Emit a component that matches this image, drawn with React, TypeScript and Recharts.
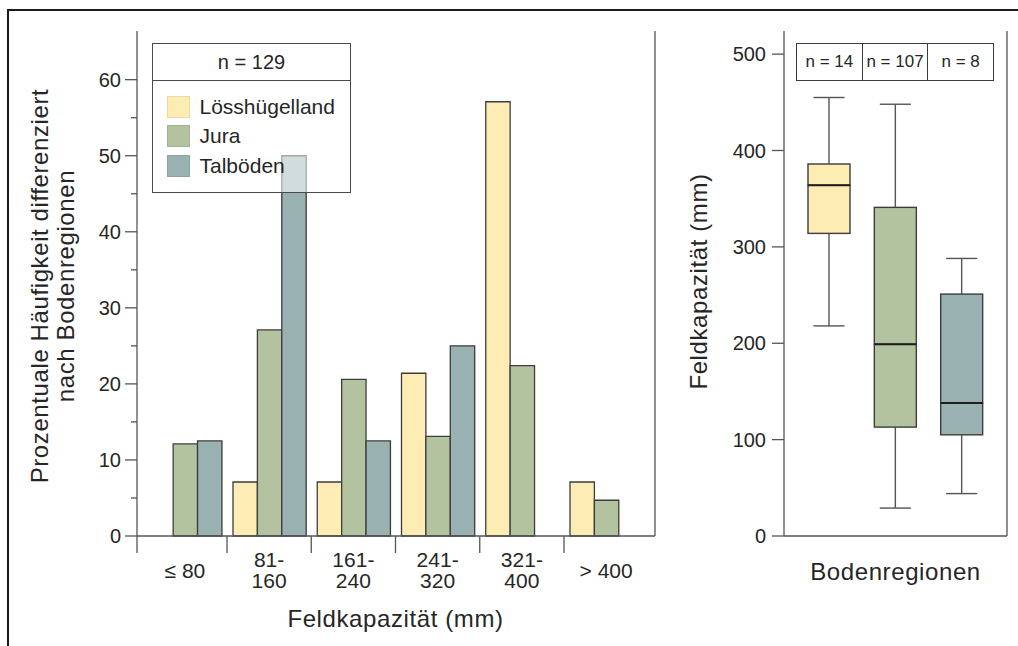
import React from 'react';
import { BarChart, Bar, XAxis, YAxis, Legend } from 'recharts';

// ---------- Data: histogram (percent per soil region) ----------
const categories = ['≤ 80', '81-160', '161-240', '241-320', '321-400', '> 400'];
const tickLines = [['≤ 80'], ['81-', '160'], ['161-', '240'], ['241-', '320'], ['321-', '400'], ['> 400']];
const loess = [0, 7.1, 7.1, 21.4, 57.1, 7.1];
const jura = [12.1, 27.1, 20.6, 13.1, 22.4, 4.7];
const talboeden = [12.5, 50.0, 12.5, 25.0, 0, 0];
const histTicks = [0, 5, 10, 15, 20, 25, 30, 35, 40, 45, 50, 55, 60];
const totalN = 129;

// ---------- Data: box plots ----------
const regions = ['Lösshügelland', 'Jura', 'Talböden'];
const nValues = [14, 107, 8];
const whiskerMin = [218, 29, 44];
const q1 = [314, 113, 105];
const median = [364, 199, 138];
const q3 = [386, 341, 251];
const whiskerMax = [455, 448, 288];
const boxTicks = [0, 100, 200, 300, 400, 500];

// ---------- Style ----------
const FONT = '"Liberation Sans", Arial, Helvetica, sans-serif';
const TXT = '#262626';
const AX = '#555555';
const EDGE = '#3c3c3c';
const COLORS = ['#FDEDB5', '#B3C39F', '#9AB1B2'];
const SWATCH_BORDER = ['#eadb9c', '#a2b38d', '#8aa2a3'];
const TITLE_SIZE = 24;
const TITLE_LS = 0.6;

const histData = categories.map((c, i) => ({ cat: c, loess: loess[i], jura: jura[i], talboeden: talboeden[i] }));
const boxData = regions.map((r, i) => ({
  region: r,
  base: whiskerMin[i],
  lowW: q1[i] - whiskerMin[i],
  lowBox: median[i] - q1[i],
  highBox: q3[i] - median[i],
  highW: whiskerMax[i] - q3[i],
}));

const PAD_L = 5.75;
const PAD_R = 6.75;
const PLOT_W = 518;
const BAND = (PLOT_W - PAD_L - PAD_R) / categories.length;

const CatTick = (props: any) => {
  const { x, y, index } = props;
  const lines = tickLines[index] || [];
  const left = index === 0 ? x - BAND / 2 - PAD_L : x - BAND / 2;
  return (
    <g>
      <line x1={left} x2={left} y1={y} y2={y + 17} stroke={AX} strokeWidth={1.3} />
      {lines.length === 1 ? (
        <text x={x} y={y + 42} textAnchor="middle" fontSize={21} fill={TXT} fontFamily={FONT}>{lines[0]}</text>
      ) : (
        <text x={x} y={y + 31} textAnchor="middle" fontSize={21} fill={TXT} fontFamily={FONT}>
          <tspan x={x} y={y + 31}>{lines[0]}</tspan>
          <tspan x={x} y={y + 52}>{lines[1]}</tspan>
        </text>
      )}
    </g>
  );
};

const HistYTick = (props: any) => {
  const { x, y, payload } = props;
  const major = payload.value % 10 === 0;
  return (
    <g>
      <line x1={x - (major ? 12 : 6)} x2={x} y1={y} y2={y} stroke={AX} strokeWidth={1.3} />
      {major && (
        <text x={x - 16} y={y + 7} textAnchor="end" fontSize={20} fill={TXT} fontFamily={FONT}>{payload.value}</text>
      )}
    </g>
  );
};

const BoxYTick = (props: any) => {
  const { x, y, payload } = props;
  return (
    <g>
      <line x1={x - 12} x2={x} y1={y} y2={y} stroke={AX} strokeWidth={1.3} />
      <text x={x - 18} y={y + 7} textAnchor="end" fontSize={20} fill={TXT} fontFamily={FONT}>{payload.value}</text>
    </g>
  );
};

const histYLabel = (props: any) => {
  const vb = props.viewBox || {};
  const cy = vb.y + vb.height / 2 + 2.5;
  const x1 = vb.x + 38;
  const x2 = vb.x + 64;
  return (
    <g>
      <text x={x1} y={cy} transform={`rotate(-90, ${x1}, ${cy})`} textAnchor="middle" fontSize={TITLE_SIZE} letterSpacing={TITLE_LS} fill={TXT} fontFamily={FONT}>
        Prozentuale Häufigkeit differenziert
      </text>
      <text x={x2} y={cy} transform={`rotate(-90, ${x2}, ${cy})`} textAnchor="middle" fontSize={TITLE_SIZE} letterSpacing={TITLE_LS} fill={TXT} fontFamily={FONT}>
        nach Bodenregionen
      </text>
    </g>
  );
};

const histXLabel = (props: any) => {
  const vb = props.viewBox || {};
  const cx = vb.x + PAD_L + (BAND * categories.length) / 2;
  return (
    <text x={cx} y={vb.y + 91} textAnchor="middle" fontSize={TITLE_SIZE} letterSpacing={TITLE_LS} fill={TXT} fontFamily={FONT}>
      Feldkapazität (mm)
    </text>
  );
};

const boxYLabel = (props: any) => {
  const vb = props.viewBox || {};
  const cy = vb.y + vb.height / 2 - 2;
  const x = vb.x + 23;
  return (
    <text x={x} y={cy} transform={`rotate(-90, ${x}, ${cy})`} textAnchor="middle" fontSize={TITLE_SIZE} letterSpacing={TITLE_LS} fill={TXT} fontFamily={FONT}>
      Feldkapazität (mm)
    </text>
  );
};

const boxXLabel = (props: any) => {
  const vb = props.viewBox || {};
  return (
    <text x={vb.x + vb.width / 2} y={vb.y + 44} textAnchor="middle" fontSize={TITLE_SIZE} letterSpacing={TITLE_LS} fill={TXT} fontFamily={FONT}>
      Bodenregionen
    </text>
  );
};

const LowerWhisker = (p: any) => {
  const { x, y, width, height } = p;
  const cx = x + width / 2;
  const cap = width * 0.37;
  return (
    <g>
      <line x1={cx} x2={cx} y1={y} y2={y + height} stroke={AX} strokeWidth={1.4} />
      <line x1={cx - cap} x2={cx + cap} y1={y + height} y2={y + height} stroke={AX} strokeWidth={1.4} />
    </g>
  );
};

const UpperWhisker = (p: any) => {
  const { x, y, width, height } = p;
  const cx = x + width / 2;
  const cap = width * 0.37;
  return (
    <g>
      <line x1={cx} x2={cx} y1={y} y2={y + height} stroke={AX} strokeWidth={1.4} />
      <line x1={cx - cap} x2={cx + cap} y1={y} y2={y} stroke={AX} strokeWidth={1.4} />
    </g>
  );
};

const LowBox = (p: any) => {
  const { x, y, width, height, index } = p;
  return <rect x={x} y={y} width={width} height={height} fill={COLORS[index]} stroke={EDGE} strokeWidth={1.4} />;
};

const HighBox = (p: any) => {
  const { x, y, width, height, index } = p;
  return (
    <g>
      <rect x={x} y={y} width={width} height={height} fill={COLORS[index]} stroke={EDGE} strokeWidth={1.4} />
      <line x1={x} x2={x + width} y1={y + height} y2={y + height} stroke="#1e1e1e" strokeWidth={2} />
    </g>
  );
};

const HistLegend = () => (
  <div
    style={{
      width: 199,
      height: 150,
      boxSizing: 'border-box',
      border: '1.5px solid #4a4a4a',
      background: 'rgba(255,255,255,0.55)',
      fontFamily: FONT,
      color: TXT,
    }}
  >
    <div
      style={{
        height: 36,
        borderBottom: '1.5px solid #4a4a4a',
        display: 'flex',
        alignItems: 'center',
        justifyContent: 'center',
        fontSize: 20,
      }}
    >
      n = {totalN}
    </div>
    <div style={{ paddingTop: 11, paddingLeft: 13.5 }}>
      {regions.map((r, i) => (
        <div key={r} style={{ height: 29.5, display: 'flex', alignItems: 'center' }}>
          <div
            style={{
              width: 23,
              height: 22,
              boxSizing: 'border-box',
              background: COLORS[i],
              border: `1px solid ${SWATCH_BORDER[i]}`,
              marginRight: 10,
            }}
          />
          <span style={{ fontSize: 21 }}>{r}</span>
        </div>
      ))}
    </div>
  </div>
);

const NTable = () => (
  <div
    style={{
      display: 'flex',
      width: 198,
      height: 38,
      boxSizing: 'border-box',
      border: '1.3px solid #3c3c3c',
      background: '#fff',
      fontFamily: FONT,
      color: TXT,
    }}
  >
    {nValues.map((n, i) => (
      <div
        key={i}
        style={{
          flex: 1,
          display: 'flex',
          alignItems: 'center',
          justifyContent: 'center',
          fontSize: 17,
          borderLeft: i > 0 ? '1.3px solid #3c3c3c' : 'none',
        }}
      >
        n = {n}
      </div>
    ))}
  </div>
);

export default function App() {
  return (
    <div style={{ position: 'absolute', left: 0, top: 0, width: 1018, height: 646, background: '#fff', overflow: 'hidden' }}>
      <div
        style={{
          position: 'absolute',
          left: 7,
          top: 9,
          width: 1030,
          height: 660,
          borderTop: '2px solid #1a1a1a',
          borderLeft: '2px solid #1a1a1a',
        }}
      />
      <div style={{ position: 'absolute', left: 0, top: 0 }}>
        <BarChart
          width={680}
          height={646}
          data={histData}
          margin={{ top: 31, right: 24, bottom: 50, left: 10 }}
          barGap={0}
          barSize={24.4}
        >
          <XAxis
            dataKey="cat"
            padding={{ left: PAD_L, right: PAD_R }}
            tick={<CatTick />}
            tickLine={false}
            tickSize={0}
            tickMargin={0}
            interval={0}
            height={60}
            axisLine={{ stroke: AX, strokeWidth: 1.3 }}
            label={histXLabel}
          />
          <XAxis xAxisId="top" orientation="top" dataKey="cat" height={0} tick={false} tickLine={false} axisLine={{ stroke: AX, strokeWidth: 1.3 }} />
          <YAxis
            domain={[0, 66.4]}
            ticks={histTicks}
            interval={0}
            width={127}
            tick={<HistYTick />}
            tickLine={false}
            tickSize={0}
            tickMargin={0}
            axisLine={{ stroke: AX, strokeWidth: 1.3 }}
            label={histYLabel}
          />
          <YAxis yAxisId="right" orientation="right" width={1} domain={[0, 1]} tick={false} tickLine={false} axisLine={{ stroke: AX, strokeWidth: 1.3 }} />
          <Bar dataKey="loess" name="Lösshügelland" fill={COLORS[0]} stroke={EDGE} strokeWidth={1.3} isAnimationActive={false} />
          <Bar dataKey="jura" name="Jura" fill={COLORS[1]} stroke={EDGE} strokeWidth={1.3} isAnimationActive={false} />
          <Bar dataKey="talboeden" name="Talböden" fill={COLORS[2]} stroke={EDGE} strokeWidth={1.3} isAnimationActive={false} />
          <Legend
            layout="horizontal"
            verticalAlign="middle"
            align="center"
            content={<HistLegend />}
            wrapperStyle={{ left: 152, top: 43, width: 199, height: 150 }}
          />
        </BarChart>
      </div>
      <div style={{ position: 'absolute', left: 680, top: 0 }}>
        <BarChart
          width={338}
          height={646}
          data={boxData}
          margin={{ top: 31, right: 10, bottom: 50, left: 4 }}
          barSize={42}
        >
          <XAxis
            dataKey="region"
            padding={{ left: 12, right: 12 }}
            tick={false}
            tickLine={false}
            height={60}
            axisLine={{ stroke: AX, strokeWidth: 1.3 }}
            label={boxXLabel}
          />
          <XAxis xAxisId="top" orientation="top" dataKey="region" height={0} tick={false} tickLine={false} axisLine={{ stroke: AX, strokeWidth: 1.3 }} />
          <YAxis
            domain={[0, 524]}
            ticks={boxTicks}
            interval={0}
            width={100}
            tick={<BoxYTick />}
            tickLine={false}
            tickSize={0}
            tickMargin={0}
            axisLine={{ stroke: AX, strokeWidth: 1.3 }}
            label={boxYLabel}
          />
          <YAxis yAxisId="right" orientation="right" width={1} domain={[0, 1]} tick={false} tickLine={false} axisLine={{ stroke: AX, strokeWidth: 1.3 }} />
          <Bar dataKey="base" stackId="b" fill="transparent" isAnimationActive={false} />
          <Bar dataKey="lowW" stackId="b" shape={LowerWhisker} isAnimationActive={false} />
          <Bar dataKey="lowBox" stackId="b" shape={LowBox} isAnimationActive={false} />
          <Bar dataKey="highBox" stackId="b" shape={HighBox} isAnimationActive={false} />
          <Bar dataKey="highW" stackId="b" shape={UpperWhisker} isAnimationActive={false} />
          <Legend
            layout="horizontal"
            verticalAlign="middle"
            align="center"
            content={<NTable />}
            wrapperStyle={{ left: 116, top: 43, width: 198, height: 38 }}
          />
        </BarChart>
      </div>
    </div>
  );
}
